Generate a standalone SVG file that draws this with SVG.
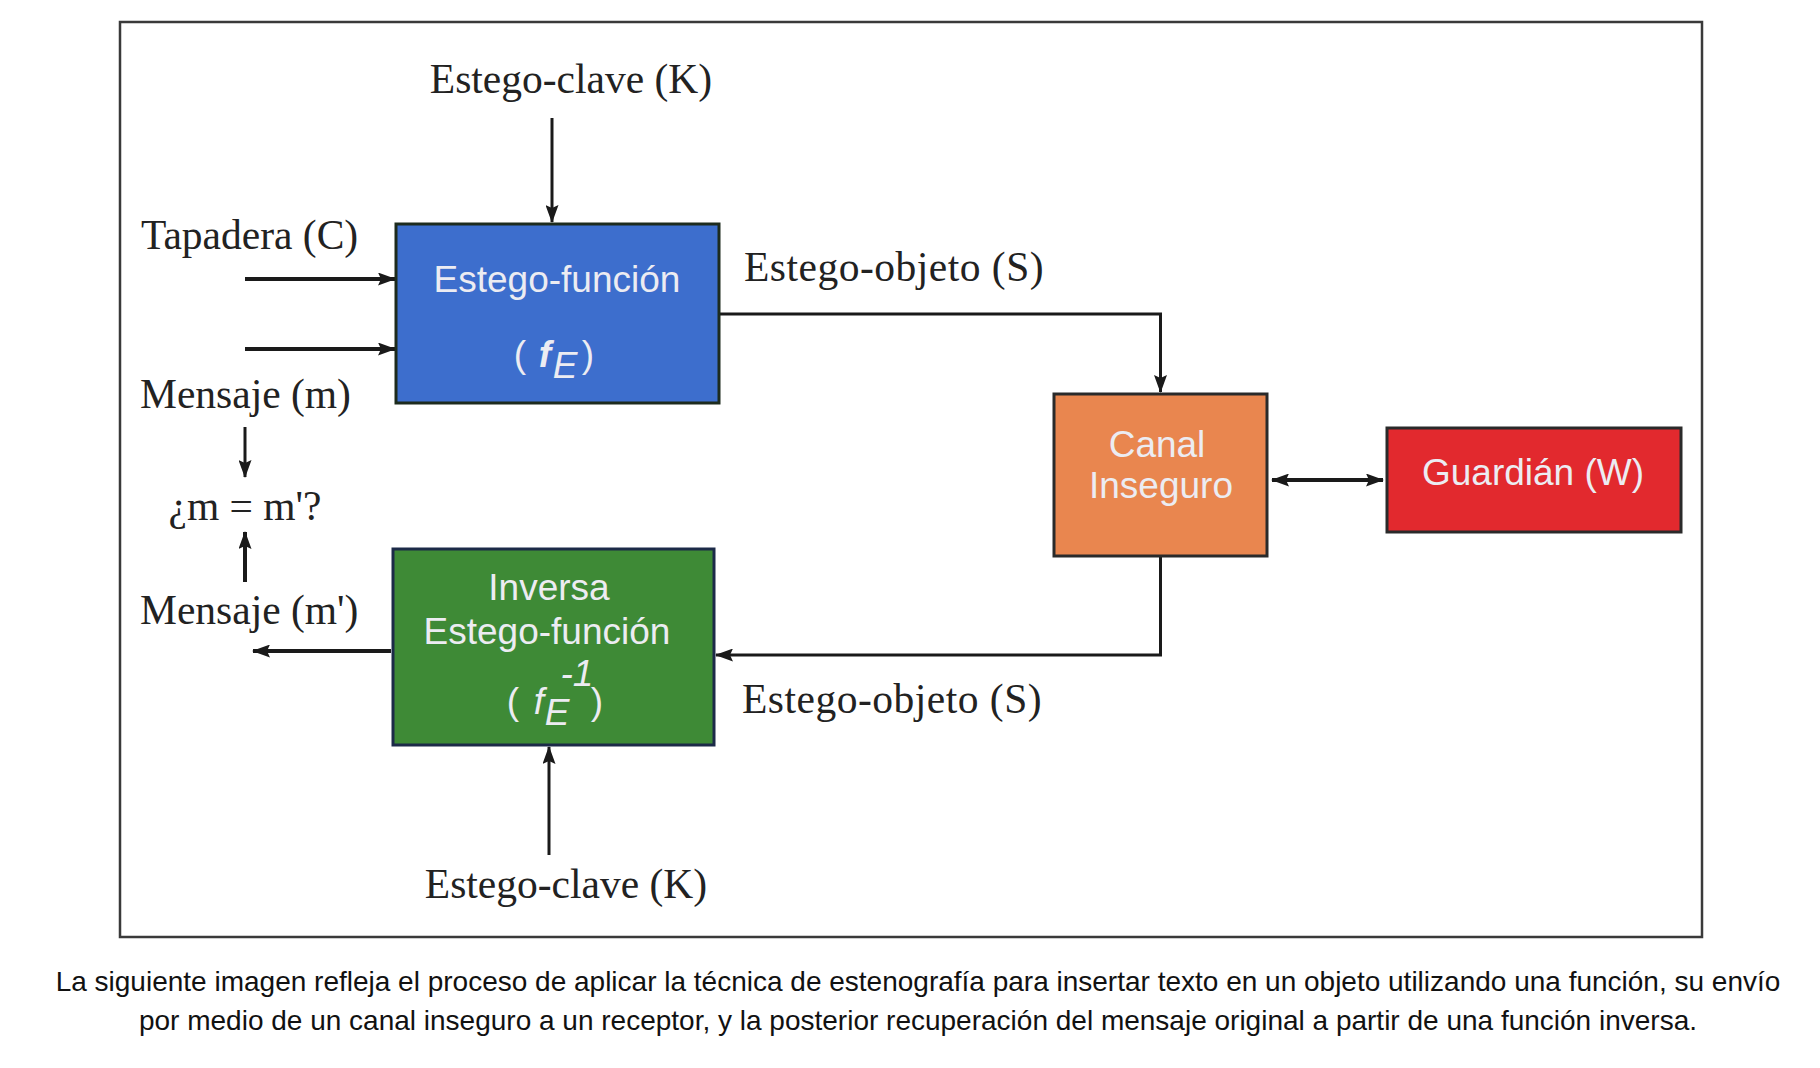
<svg xmlns="http://www.w3.org/2000/svg" width="1820" height="1068" viewBox="0 0 1820 1068">
  <style>
    .lbl { font-family: "Liberation Serif", "Times New Roman", serif; font-size: 41.5px; fill: #222; }
    .box-t { font-family: "Liberation Sans", Arial, sans-serif; font-size: 37px; fill: #ececf2; text-anchor: middle; }
    .cap { font-family: "Liberation Sans", Arial, sans-serif; font-size: 28px; fill: #111; text-anchor: middle; }
    .ln { fill: none; stroke: #1a1a1a; stroke-width: 3; }
    .thick { stroke-width: 4; }
    .box { stroke-width: 3; }
  </style>
  <defs>
    <marker id="ah" viewBox="0 0 18 13" refX="17" refY="6.5" markerWidth="18" markerHeight="13" markerUnits="userSpaceOnUse" orient="auto-start-reverse">
      <path d="M0,0 L18,6.5 L0,13 L3,6.5 z" fill="#1a1a1a"/>
    </marker>
  </defs>

  <rect x="0" y="0" width="1820" height="1068" fill="#ffffff"/>
  <rect id="frame" x="120" y="22" width="1582" height="915" fill="#ffffff" stroke="#3a3a3a" stroke-width="2.5"/>

  <g id="connectors">
    <line class="ln" x1="552" y1="118" x2="552" y2="222" marker-end="url(#ah)"/>
    <line class="ln thick" x1="245" y1="279" x2="395" y2="279" marker-end="url(#ah)"/>
    <line class="ln thick" x1="245" y1="349" x2="395" y2="349" marker-end="url(#ah)"/>
    <polyline class="ln" points="720,314 1160.5,314 1160.5,392" marker-end="url(#ah)"/>
    <line class="ln thick" x1="1272" y1="480" x2="1383" y2="480" marker-start="url(#ah)" marker-end="url(#ah)"/>
    <polyline class="ln" points="1160.5,557 1160.5,655 716,655" marker-end="url(#ah)"/>
    <line class="ln thick" x1="391" y1="651" x2="253" y2="651" marker-end="url(#ah)"/>
    <line class="ln" x1="245" y1="427" x2="245" y2="477" marker-end="url(#ah)"/>
    <line class="ln thick" x1="245" y1="582" x2="245" y2="532" marker-end="url(#ah)"/>
    <line class="ln" x1="549" y1="855" x2="549" y2="747" marker-end="url(#ah)"/>
  </g>

  <g id="labels">
    <text class="lbl" x="571" y="93" text-anchor="middle">Estego-clave (K)</text>
    <text class="lbl" x="141" y="249">Tapadera (C)</text>
    <text class="lbl" x="140" y="408">Mensaje (m)</text>
    <text class="lbl" x="245" y="520" text-anchor="middle">¿m = m'?</text>
    <text class="lbl" x="140" y="624">Mensaje (m')</text>
    <text class="lbl" x="744" y="281" letter-spacing="0.5">Estego-objeto (S)</text>
    <text class="lbl" x="742" y="713" letter-spacing="0.5">Estego-objeto (S)</text>
    <text class="lbl" x="566" y="898" text-anchor="middle">Estego-clave (K)</text>
  </g>

  <g id="estego-funcion">
    <rect class="box" x="396" y="224" width="323" height="179" fill="#3d6ecd" stroke="#1d2b1d"/>
    <text class="box-t" x="557" y="292">Estego-función</text>
    <text class="box-t" font-size="48" x="520" y="367">(</text>
    <text class="box-t" font-size="44" font-weight="bold" font-style="italic" x="545" y="367">f</text>
    <text class="box-t" font-size="24" font-style="italic" x="565" y="378">E</text>
    <text class="box-t" font-size="48" x="588" y="367">)</text>
  </g>

  <g id="inversa">
    <rect class="box" x="393" y="549" width="321" height="196" fill="#3e8a36" stroke="#1c2a48"/>
    <text class="box-t" x="549" y="600">Inversa</text>
    <text class="box-t" x="547" y="644">Estego-función</text>
    <text class="box-t" font-size="38" x="513" y="714">(</text>
    <text class="box-t" font-size="40" font-style="italic" x="539" y="714">f</text>
    <text class="box-t" font-size="24" font-style="italic" x="557" y="725">E</text>
    <text class="box-t" font-size="18" font-style="italic" x="577" y="686">-1</text>
    <text class="box-t" font-size="38" x="597" y="714">)</text>
  </g>

  <g id="canal">
    <rect class="box" x="1054" y="394" width="213" height="162" fill="#e9864f" stroke="#2a2a2a"/>
    <text class="box-t" x="1157" y="457">Canal</text>
    <text class="box-t" x="1161" y="498">Inseguro</text>
  </g>

  <g id="guardian">
    <rect class="box" x="1387" y="428" width="294" height="104" fill="#e2292e" stroke="#2a2a2a"/>
    <text class="box-t" x="1533" y="485">Guardián (W)</text>
  </g>

  <g id="caption">
    <text class="cap" x="918" y="991">La siguiente imagen refleja el proceso de aplicar la técnica de estenografía para insertar texto en un objeto utilizando una función, su envío</text>
    <text class="cap" x="918" y="1030">por medio de un canal inseguro a un receptor, y la posterior recuperación del mensaje original a partir de una función inversa.</text>
  </g>
</svg>
